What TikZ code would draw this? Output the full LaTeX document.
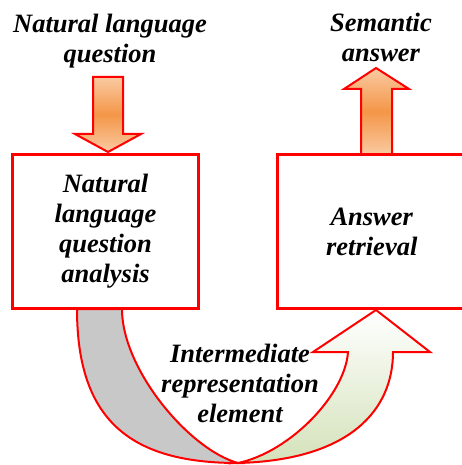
\documentclass[tikz,border=0pt]{standalone}
\usepackage{fontspec}
\setmainfont{Liberation Serif}
\usepackage{tikz}

\definecolor{boxred}{RGB}{255,0,0}
\definecolor{peach}{RGB}{250,202,162}
\definecolor{deeporange}{RGB}{244,150,72}
\definecolor{tailgray}{RGB}{200,200,200}
\definecolor{palegreen}{RGB}{212,226,186}

\pgfdeclareverticalshading{orangeband}{100bp}{color(0bp)=(peach); color(25bp)=(peach); color(50bp)=(deeporange); color(75bp)=(peach); color(100bp)=(peach)}
\pgfdeclareverticalshading{greenfade}{100bp}{color(0bp)=(palegreen); color(25bp)=(palegreen); color(75bp)=(white); color(100bp)=(white)}

\newcommand{\flowfont}{\fontsize{26.5}{30}\selectfont\bfseries\itshape}

\tikzset{
    stage/.style={shape=rectangle,draw=boxred,line width=3pt,align=center,font=\flowfont},
    caption/.style={align=center,inner sep=0pt,font=\flowfont},
    fat/.style={draw=boxred,line width=2pt,line join=miter}
}

\begin{document}
\begin{tikzpicture}[x=1pt,y=-1pt]

        \useasboundingbox (0,0) rectangle (462,465);

        % input and output arrows
        \draw[fat,shading=orangeband]
            (93,77) -- (123,77) -- (123,134) -- (141,134) -- (108,152) -- (75,134) -- (93,134) -- cycle;
        \draw[fat,shading=orangeband]
            (361,155) -- (361,89) -- (344,89) -- (376,68) -- (409,89) -- (392,89) -- (392,155) -- cycle;

        % the u-turn between the two stages
        \draw[fat,fill=tailgray] (77,309) .. controls (77,420) and (130,463) .. (238,463)
            .. controls (190,450) and (122,370) .. (122,309) -- cycle;
        \draw[fat,shading=greenfade] (238,463) .. controls (350,460) and (393,410) .. (393,352)
            -- (430,352) -- (376,310) -- (313,352) -- (348,352)
            .. controls (345,395) and (290,452) .. (238,463) -- cycle;

        \node[caption] (question) at (110,41) {Natural language\\question};
        \node[caption] (answer) at (381,37) {Semantic\\answer};
        \node[caption] (element) at (240,383) {Intermediate\\representation\\element};

        \node[stage,minimum width=186pt,minimum height=154pt] (analysis) at (105.5,231.5) {Natural\\language\\question\\analysis};
        \node[stage,minimum width=188.5pt,minimum height=154pt] (retrieval) at (371.75,231.5) {Answer\\retrieval};

    \end{tikzpicture}
\end{document}
